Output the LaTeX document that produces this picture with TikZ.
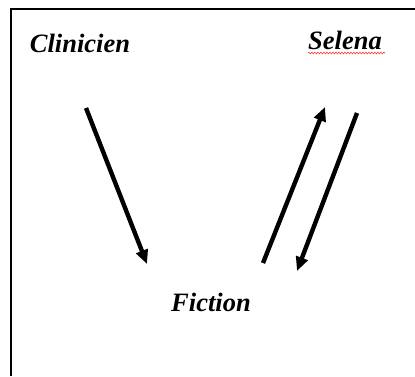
\documentclass[tikz,border=0pt]{standalone}
\usepackage{fontspec}
\setmainfont{Liberation Serif}
\usetikzlibrary{positioning}
\usetikzlibrary{arrows.meta}
\usetikzlibrary{decorations.pathmorphing}

\begin{document}
\begin{tikzpicture}[x=1pt, y=-1pt,
    actor/.style={anchor=base, inner sep=0pt, font=\fontsize{26.5}{30}\selectfont\bfseries\itshape},
    flow/.style={line width=4.4, -{Triangle[length=14pt, width=12pt]}},
    squiggle/.style={red!75, line width=0.6, decorate, decoration={snake, amplitude=0.9pt, segment length=3pt}}]
  \useasboundingbox (0, 0) rectangle (415, 376);
  % frame
  \draw[line width=2] (11, 376) -- (11, 9) -- (415, 9);
  % labels
  \node[actor] (clinicien) at (80, 52) {Clinicien};
  \node[actor] (selena) at (345, 49) {Selena};
  \node[actor] (fiction) at (211, 311) {Fiction};
  \draw[squiggle] (selena.base west) ++(0, 4) -- ++(77, 0);
  % arrow ends
  \coordinate (c1) at (86, 108);
  \coordinate (f1) at (147, 264);
  \coordinate (f2) at (263, 263);
  \coordinate (s2) at (325, 107);
  \coordinate (s3) at (357, 113);
  \coordinate (f3) at (297, 271);
  \draw[flow] (c1) -- (f1);
  \draw[flow] (f2) -- (s2);
  \draw[flow] (s3) -- (f3);
\end{tikzpicture}
\end{document}
